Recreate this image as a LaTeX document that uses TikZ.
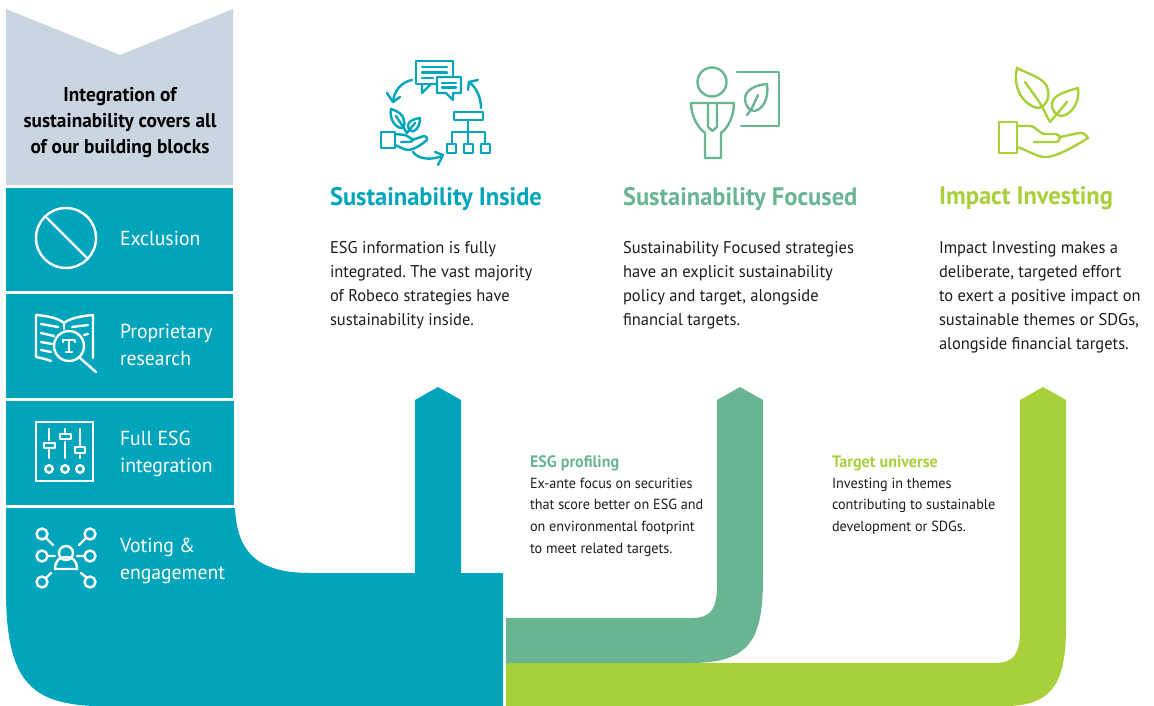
\documentclass[tikz,border=0pt]{standalone}
\usepackage{fontspec}
\setmainfont{PT Sans}[FakeStretch=0.97]
\frenchspacing
\usetikzlibrary{arrows.meta}
\definecolor{rteal}{HTML}{00A5BB}
\definecolor{rgreen}{HTML}{6AB591}
\definecolor{rlime}{HTML}{A8D03A}
\definecolor{rgrey}{HTML}{C9D5E0}
\definecolor{rink}{HTML}{1C1C1C}
\tikzset{
  x=1pt,y=-1pt,
  txt/.style={anchor=north west,inner sep=0pt,outer sep=0pt,align=left},
  sidelabel/.style={txt,text=white,font=\fontsize{20.3}{27}\selectfont},
  headlabel/.style={txt,font=\fontsize{25.3}{30}\bfseries\selectfont},
  bodytext/.style={txt,text=rink,font=\fontsize{17}{24}\selectfont},
  smalltext/.style={txt,text=rink,font=\fontsize{14.65}{21.6}\selectfont},
  smallhead/.style={txt,font=\fontsize{16.6}{20}\bfseries\selectfont},
  icon/.style={line width=2.4pt,line join=round,line cap=round},
  wicon/.style={icon,draw=white},
}
\begin{document}
\begin{tikzpicture}
\useasboundingbox (0,0) rectangle (1154,706);
% left column
\fill[rgrey] (6,9) -- (120,55) -- (233,9) -- (233,185) -- (6,185) -- cycle;
\fill[rteal] (6,188) rectangle (233,291);
\fill[rteal] (6,294) rectangle (233,398);
\fill[rteal] (6,401) rectangle (234,505);
% ribbons
\fill[rlime] (506,663) -- (995,663) .. controls (1013,663) and (1020,655) .. (1020,630) -- (1020,400) -- (1043,387) -- (1066,400) -- (1066,625) .. controls (1066,680) and (1055,706) .. (1005,706) -- (506,706) -- cycle;
\fill[rgreen] (506,618) -- (692,618) .. controls (710,618) and (717,610) .. (717,585) -- (717,400) -- (740,387) -- (763,400) -- (763,578) .. controls (763,640) and (750,663) .. (690,663) -- (506,663) -- cycle;
\fill[rteal] (6,508) -- (235,508) .. controls (237,550) and (255,573) .. (310,573) -- (415,573) -- (415,400) -- (438,387) -- (461,400) -- (461,573) -- (503,573) -- (503,706) -- (93,706) .. controls (30,703) and (6,680) .. (6,590) -- cycle;
% exclusion icon
\draw[wicon] (66,238) circle (30);
\draw[wicon] (47,218) -- (88,259);
% research icon
\draw[wicon] (51,361) .. controls (46,359) and (41,358) .. (36,357) -- (36,315) .. controls (48,316) and (58,318) .. (64,323) .. controls (70,318) and (82,316) .. (93,315) -- (93,358);
\draw[wicon] (64,323) -- (64,329);
\draw[wicon] (41,324) -- (58,327) (41,333) -- (54,336) (41,342) -- (52,344) (41,350) -- (51,352);
\draw[wicon] (72,327) -- (88,325) (84,335) -- (88,334);
\draw[wicon] (69,346) circle (15);
\draw[wicon] (80,358) -- (96,372);
\draw[wicon] (63,342) -- (63,340) -- (75,340) -- (75,342) (69,340) -- (69,352) (66,352) -- (72,352);
% sliders icon
\draw[wicon,line cap=butt,line join=miter] (36,422) rectangle (93,481);
\draw[wicon] (49,429) -- (49,440) (49,450) -- (49,458) (65,429) -- (65,432) (65,442) -- (65,458) (80,429) -- (80,445) (80,455) -- (80,458);
\draw[wicon] (44,443) rectangle (55,448) (60,434) rectangle (71,439) (75,447) rectangle (85,453);
\draw[wicon] (49,469) circle (3.8) (65,469) circle (3.8) (80,469) circle (3.8);
% voting icon
\draw[wicon] (66,553) circle (7);
\draw[wicon] (55,569) .. controls (55,560) and (60,557) .. (66,557) .. controls (72,557) and (77,560) .. (77,569) -- cycle;
\draw[wicon] (42,534) circle (5.5) (90,534) circle (5.5) (42,556) circle (5.5) (90,556) circle (5.5) (42,582) circle (5.5) (90,582) circle (5.5);
\draw[wicon] (46,538) -- (53,545) (86,538) -- (79,545) (47,556) -- (55,556) (77,556) -- (85,556) (46,578) -- (51,573) (81,573) -- (87,578);
% sustainability inside icon
\begin{scope}[icon,draw=rteal]
\draw (437,84) -- (416,84) -- (416,61) -- (453,61) -- (453,76);
\draw (422,84) -- (422,93) -- (431,84);
\draw (437,77) -- (461,77) -- (461,93) -- (453,93) -- (453,100) -- (446,93) -- (437,93) -- cycle;
\draw (422,67) -- (447,67) (422,72.5) -- (447,72.5) (422,78) -- (433,78);
\draw (442,83) -- (456,83) (442,87.5) -- (456,87.5);
\draw (412,80) .. controls (402,82) and (394,90) .. (393,102);
\draw (387,93) -- (393,102) -- (400,97);
\draw (481,108) .. controls (481,97) and (476,87) .. (469,82);
\draw (468,90) -- (469,82) -- (478,80);
\draw (413,152) .. controls (419,160) and (432,160) .. (442,156);
\draw (438,165) -- (443,155) -- (435,152);
\draw (454,112) rectangle (483,120);
\draw (468,120) -- (468,144) (452,144) -- (452,132) -- (485,132) -- (485,144);
\draw (447,144) rectangle (456,153) (464,144) rectangle (473,153) (481,144) rectangle (490,153);
\draw (381,132) rectangle (395,148);
\draw (395,134) -- (405,135) .. controls (408,136) and (410,138) .. (412,139) .. controls (414,141) and (411,142) .. (409,142) -- (401,142);
\draw (412,140) -- (424,136) .. controls (426,136) and (428,138) .. (427,140) .. controls (421,145) and (415,149) .. (409,150) .. controls (404,150) and (400,147) .. (395,145);
\draw (391,109) .. controls (398,111) and (404,115) .. (404,121) .. controls (405,125) and (404,128) .. (402,128) .. controls (396,128) and (389,120) .. (391,109) -- cycle;
\draw (396,116) -- (407,133) -- (415,123);
\draw (420,118) .. controls (414,119) and (408,121) .. (408,126) .. controls (408,130) and (412,132) .. (414,131) .. controls (418,129) and (420,124) .. (420,118) -- cycle;
\end{scope}
% sustainability focused icon
\begin{scope}[icon,draw=rgreen]
\draw (712,82) circle (14.5);
\draw (691,103) -- (734,103) .. controls (734,115) and (729,127) .. (721,133) -- (721,158) -- (705,158) -- (705,133) .. controls (697,127) and (691,115) .. (691,103) -- cycle;
\draw (708,103) -- (708,127) -- (712.5,131) -- (717,127) -- (717,103);
\draw (737,72) -- (779,72) -- (779,126) -- (741,126);
\draw (767,84) .. controls (755,85) and (745,90) .. (745,99) .. controls (745,106) and (750,111) .. (754,111) .. controls (763,110) and (769,98) .. (767,84) -- cycle;
\draw (747,115) -- (752,108) (752,108) -- (758,95);
\end{scope}
% impact investing icon
\begin{scope}[icon,draw=rlime]
\draw (999,122) rectangle (1017,153);
\draw (1017,126) -- (1031,126) .. controls (1036,127) and (1039,133) .. (1044,134) -- (1056,134) .. controls (1061,135) and (1061,142) .. (1056,142) -- (1034,142);
\draw (1060,137) -- (1079,133) .. controls (1083,132) and (1086,135) .. (1088,138) .. controls (1075,146) and (1060,155) .. (1048,157) .. controls (1037,158) and (1028,150) .. (1017,147);
\draw (1017,68) .. controls (1030,75) and (1046,78) .. (1048,90) .. controls (1050,100) and (1044,108) .. (1037,108) .. controls (1025,105) and (1012,90) .. (1017,68) -- cycle;
\draw (1025,82) -- (1040,103) -- (1050,122) -- (1067,102);
\draw (1078,88) .. controls (1068,91) and (1054,94) .. (1052,103) .. controls (1051,110) and (1056,116) .. (1062,116) .. controls (1072,114) and (1080,102) .. (1078,88) -- cycle;
\end{scope}
% texts
\node[txt,text=black,align=center,anchor=north,font=\fontsize{19.9}{26}\bfseries\selectfont] (intro) at (120,87) {Integration of\\sustainability covers all\\of our building blocks};
\node[sidelabel] (excl) at (120,231) {Exclusion};
\node[sidelabel] (prop) at (120,324) {Proprietary\\research};
\node[sidelabel] (esg) at (120,431) {Full ESG\\integration};
\node[sidelabel] (vote) at (120,538) {Voting \&\\engagement};
\node[headlabel,text=rteal] (h1) at (330,187) {Sustainability Inside};
\node[headlabel,text=rgreen] (h2) at (623,187) {Sustainability Focused};
\node[headlabel,text=rlime] (h3) at (939,187) {Impact Investing};
\node[bodytext] (b1) at (330,241) {ESG information is fully\\integrated. The vast majority\\of Robeco strategies have\\sustainability inside.};
\node[bodytext] (b2) at (623,241) {Sustainability Focused strategies\\have an explicit sustainability\\policy and target, alongside\\financial targets.};
\node[bodytext] (b3) at (939,241) {Impact Investing makes a\\deliberate, targeted effort\\to exert a positive impact on\\sustainable themes or SDGs,\\alongside financial targets.};
\node[smallhead,text=rgreen] (s1) at (530,456) {ESG profiling};
\node[smalltext] (t1) at (530,478) {Ex-ante focus on securities\\that score better on ESG and\\on environmental footprint\\to meet related targets.};
\node[smallhead,text=rlime] (s2) at (832,456) {Target universe};
\node[smalltext] (t2) at (832,478) {Investing in themes\\contributing to sustainable\\development or SDGs.};
\end{tikzpicture}
\end{document}
